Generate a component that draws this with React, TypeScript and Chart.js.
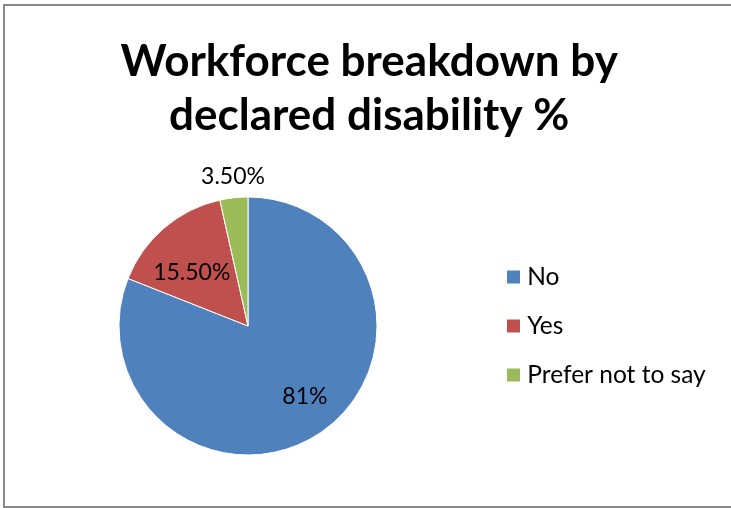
import React, { useEffect, useRef } from "react";
import { Chart, registerables } from "chart.js";

Chart.register(...registerables);

// ---- data ----
const categories = ["No", "Yes", "Prefer not to say"];
const values = [81, 15.5, 3.5];
const valueLabels = ["81%", "15.50%", "3.50%"];
const titleLines = ["Workforce breakdown by", "declared disability %"];

// ---- style ----
const colors = ["#4F81BD", "#C0504D", "#9BBB59"];
const FONT = "Lato, 'Open Sans', sans-serif";
// t = fraction along the slice's arc, r = fraction of the outer radius
const LABEL_PLACEMENT = [
  { t: 0.484, r: 0.703 },
  { t: 0.389, r: 0.599 },
  { t: 0.545, r: 1.165 },
];
const LEGEND_WIDTH = 242.5;

const dataLabelPlugin = {
  id: "dataLabels",
  afterDatasetsDraw(chart: any) {
    const meta = chart.getDatasetMeta(0);
    const ctx = chart.ctx;
    ctx.save();
    ctx.font = `23px ${FONT}`;
    ctx.fillStyle = "#000";
    ctx.textAlign = "center";
    ctx.textBaseline = "middle";
    meta.data.forEach((arc: any, i: number) => {
      const { x, y, startAngle, endAngle, outerRadius } = arc.getProps(
        ["x", "y", "startAngle", "endAngle", "outerRadius"],
        true
      );
      const p = LABEL_PLACEMENT[i];
      const a = startAngle + (endAngle - startAngle) * p.t;
      const r = outerRadius * p.r;
      ctx.fillText(valueLabels[i], x + Math.cos(a) * r, y + Math.sin(a) * r);
    });
    ctx.restore();
  },
};

const legendWidthPlugin = {
  id: "legendWidth",
  beforeLayout(chart: any) {
    const lg = chart.legend;
    if (lg && !lg.__patched) {
      const orig = lg.fit.bind(lg);
      lg.fit = () => {
        orig();
        lg.width = LEGEND_WIDTH;
      };
      lg.__patched = true;
    }
  },
};

export default function App() {
  const ref = useRef<HTMLCanvasElement | null>(null);

  useEffect(() => {
    if (!ref.current) return;
    const chart = new Chart(ref.current, {
      type: "pie",
      data: {
        labels: categories,
        datasets: [
          {
            data: values,
            backgroundColor: colors,
            borderColor: "#ffffff",
            borderWidth: 1,
            radius: 129,
          } as any,
        ],
      },
      options: {
        animation: false,
        responsive: false,
        devicePixelRatio: 1,
        layout: { padding: { left: 8.5, right: 1, top: 0, bottom: 50 } },
        plugins: {
          tooltip: { enabled: false },
          title: {
            display: true,
            text: titleLines,
            color: "#000",
            font: { family: FONT, size: 44, weight: "bold", lineHeight: 1.227 },
            padding: { top: 35, bottom: 51 },
          },
          legend: {
            position: "right",
            fullSize: false,
            labels: {
              boxWidth: 3,
              boxHeight: 3,
              padding: 24.5,
              color: "#000",
              font: { family: FONT, size: 24.5 },
              generateLabels(c: any) {
                const base = (Chart as any).overrides.doughnut.plugins.legend.labels.generateLabels(c);
                return base.map((it: any) => ({ ...it, strokeStyle: it.fillStyle, lineWidth: 10 }));
              },
            },
          },
        },
      },
      plugins: [dataLabelPlugin, legendWidthPlugin],
    });
    return () => chart.destroy();
  }, []);

  return (
    <div
      style={{
        position: "fixed",
        left: 0,
        top: 0,
        width: 731,
        height: 508,
        overflow: "hidden",
        background: "#fff",
      }}
    >
      <canvas
        ref={ref}
        width={731}
        height={508}
        style={{ position: "absolute", left: 0, top: 0, width: 731, height: 508 }}
      />
      <div
        style={{
          position: "absolute",
          left: 3,
          top: 4,
          width: 760,
          height: 504,
          boxSizing: "border-box",
          border: "2px solid #8a8a8a",
          pointerEvents: "none",
        }}
      />
    </div>
  );
}
